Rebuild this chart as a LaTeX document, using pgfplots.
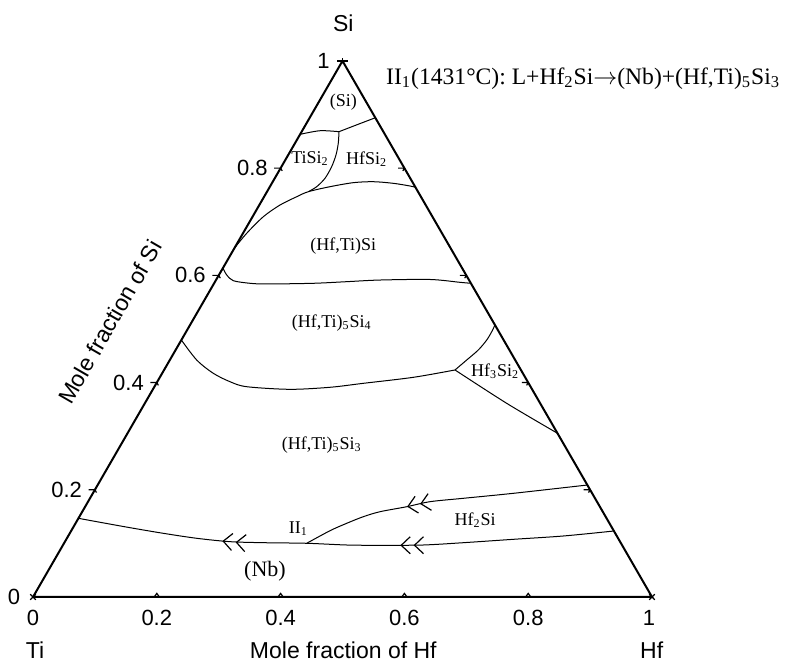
\documentclass[border=0pt]{standalone}
\usepackage{fontspec}
\setmainfont{Liberation Serif}
\newfontfamily\sansf{Liberation Sans}
\usepackage{pgfplots}
\pgfplotsset{compat=1.18}
\usetikzlibrary{decorations.markings, arrows.meta}

\pgfplotsset{/pgfplots/table/tern/.style={x expr=\thisrow{hf}+0.5*\thisrow{si}, y expr=0.8660254*\thisrow{si}}}

% tick marks
\pgfdeclareplotmark{tkB}{\pgfpathmoveto{\pgfpoint{-1.3pt}{0pt}}\pgfpathlineto{\pgfpoint{0pt}{1.8pt}}\pgfpathlineto{\pgfpoint{1.3pt}{0pt}}\pgfusepathqstroke}
\pgfdeclareplotmark{tkL}{\pgfpathmoveto{\pgfpoint{-3.2pt}{0pt}}\pgfpathlineto{\pgfpoint{0pt}{0pt}}\pgfpathlineto{\pgfpoint{0.8pt}{-1.4pt}}\pgfusepathqstroke}
\pgfdeclareplotmark{tkR}{\pgfpathmoveto{\pgfpoint{0pt}{0pt}}\pgfpathlineto{\pgfpoint{-3.2pt}{0pt}}\pgfpathmoveto{\pgfpoint{0pt}{0pt}}\pgfpathlineto{\pgfpoint{-0.8pt}{-1.4pt}}\pgfusepathqstroke}
\pgfdeclareplotmark{tkX}{\pgfpathmoveto{\pgfpoint{-1.4pt}{-1.4pt}}\pgfpathlineto{\pgfpoint{1.4pt}{1.4pt}}\pgfpathmoveto{\pgfpoint{-1.4pt}{1.4pt}}\pgfpathlineto{\pgfpoint{1.4pt}{-1.4pt}}\pgfusepathqstroke}
\pgfdeclareplotmark{tkT}{\pgfpathmoveto{\pgfpoint{-2.6pt}{0pt}}\pgfpathlineto{\pgfpoint{2.6pt}{0pt}}\pgfpathmoveto{\pgfpoint{0pt}{0pt}}\pgfpathlineto{\pgfpoint{0pt}{1.6pt}}\pgfusepathqstroke}

\newcommand\tk[1]{{\sansf\fontsize{11}{13}\selectfont #1}}
\newcommand\al[1]{{\sansf\fontsize{11.5}{13.5}\selectfont #1}}
\newcommand\rl[1]{{\fontsize{9}{11}\selectfont #1}}

\tikzset{
  dchev/.style={postaction={decorate}, decoration={markings,
     mark=at position #1 with {\arrow[line width=0.6pt]{Straight Barb[length=4.5pt,width=8.5pt,sep=1.4pt] Straight Barb[length=4.5pt,width=8.5pt]}}}},
}

\begin{document}
\begin{tikzpicture}
\useasboundingbox (-16.5pt,-32.5pt) rectangle (376pt,298.5pt);
\begin{axis}[at={(0pt,0pt)}, anchor=origin, hide axis,
  x=309.5pt, y=309.5pt, xmin=0, xmax=1, ymin=0, ymax=0.8660254,
  clip=false,
  every axis plot/.append style={black, line width=0.5pt}]

% triangle
\addplot[line width=1pt, line join=miter] table[tern] {
hf si
0 0
1 0
0 1
0 0
};

% ticks
\addplot[only marks, mark=tkB, mark options={line width=0.6pt}] table[tern] {
hf si
0.2 0
0.4 0
0.6 0
0.8 0
};
\addplot[only marks, mark=tkL, mark options={line width=0.6pt}] table[tern] {
hf si
0 0.2
0 0.4
0 0.6
0 0.8
};
\addplot[only marks, mark=tkR, mark options={line width=0.6pt}] table[tern] {
hf si
0.8 0.2
0.6 0.4
0.4 0.6
0.2 0.8
};
\addplot[only marks, mark=tkX, mark options={line width=0.6pt}] table[tern] {
hf si
0 0
1 0
};
\addplot[only marks, mark=tkT, mark options={line width=0.6pt}] table[tern] {
hf si
0 1
};

% (Si) / TiSi2
\addplot[smooth] table[tern] {
hf si
0 0.8631
0.0288 0.8698
0.0603 0.8680
};
% (Si) / HfSi2
\addplot[smooth] table[tern] {
hf si
0.0603 0.8680
0.083 0.8810
0.106 0.894
};
% TiSi2 / HfSi2
\addplot[smooth] table[tern] {
hf si
0.0603 0.8680
0.0700 0.8463
0.0772 0.8245
0.0811 0.8027
0.0812 0.7811
0.0756 0.7654
0.0668 0.7561
};
% upper boundary of (Hf,Ti)Si
\addplot[smooth] table[tern] {
hf si
0 0.6505
0.0060 0.6785
0.0174 0.7094
0.0334 0.7312
0.0527 0.7467
0.0668 0.7561
0.0971 0.7654
0.1310 0.7729
0.1624 0.7747
0.1962 0.7717
0.2257 0.7667
0.2357 0.7643
};
% lower boundary of (Hf,Ti)Si
\addplot[smooth] table[tern] {
hf si
0 0.6137
0.0126 0.6007
0.0286 0.5900
0.0580 0.5852
0.0856 0.5839
0.1602 0.5852
0.2127 0.5882
0.2649 0.5913
0.3453 0.5923
0.3963 0.5870
0.4148 0.5852
};
% (Hf,Ti)5Si4 / (Hf,Ti)5Si3
\addplot[smooth] table[tern] {
hf si
0 0.4794
0.0434 0.4421
0.0826 0.4173
0.1175 0.4016
0.1490 0.3923
0.2215 0.3874
0.2842 0.3912
0.3343 0.3986
0.4095 0.4098
0.4700 0.4235
};
% Hf3Si2 upper
\addplot[smooth] table[tern] {
hf si
0.4700 0.4235
0.4796 0.4421
0.4890 0.4608
0.4933 0.4794
0.4936 0.4949
0.4926 0.5074
};
% Hf3Si2 lower
\addplot[smooth] table[tern] {
hf si
0.4700 0.4235
0.5846 0.3613
0.6946 0.3054
};
% Hf2Si upper (towards II1)
\addplot[smooth, dchev=0.628] table[tern] {
hf si
0.7911 0.2089
0.6792 0.1934
0.6031 0.1841
0.5525 0.1778
0.5195 0.1684
0.4810 0.1591
0.4587 0.1498
0.4381 0.1375
0.4180 0.1237
0.3921 0.1002
};
% Hf2Si lower and (Nb) boundary
\addplot[smooth, postaction={decorate}, decoration={markings,
   mark=at position 0.398 with {\arrow[line width=0.6pt]{Straight Barb[length=4.5pt,width=8.5pt,sep=1.4pt] Straight Barb[length=4.5pt,width=8.5pt]}},
   mark=at position 0.729 with {\arrow[line width=0.6pt]{Straight Barb[length=4.5pt,width=8.5pt,sep=1.4pt] Straight Barb[length=4.5pt,width=8.5pt]}}}] table[tern] {
hf si
0.8769 0.1231
0.7998 0.1138
0.7221 0.1076
0.6446 0.1013
0.5820 0.0970
0.5124 0.0964
0.4583 0.0970
0.3921 0.1002
0.3215 0.1013
0.2667 0.1032
0.2098 0.1095
0.1511 0.1188
0.0921 0.1293
0.0327 0.1405
0 0.1468
};

% tick labels, left edge
\node[anchor=east, inner sep=0pt, xshift=-6.3pt] at (axis cs:0,0) {\tk{0}};
\node[anchor=east, inner sep=0pt, xshift=-6.3pt] at (axis cs:0.1,0.17321) {\tk{0.2}};
\node[anchor=east, inner sep=0pt, xshift=-6.3pt] at (axis cs:0.2,0.34641) {\tk{0.4}};
\node[anchor=east, inner sep=0pt, xshift=-6.3pt] at (axis cs:0.3,0.51962) {\tk{0.6}};
\node[anchor=east, inner sep=0pt, xshift=-6.3pt] at (axis cs:0.4,0.69282) {\tk{0.8}};
\node[anchor=east, inner sep=0pt, xshift=-6.3pt] at (axis cs:0.5,0.86603) {\tk{1}};
% tick labels, bottom edge
\node[yshift=-10.7pt] at (axis cs:0,0) {\tk{0}};
\node[yshift=-10.7pt] at (axis cs:0.2,0) {\tk{0.2}};
\node[yshift=-10.7pt] at (axis cs:0.4,0) {\tk{0.4}};
\node[yshift=-10.7pt] at (axis cs:0.6,0) {\tk{0.6}};
\node[yshift=-10.7pt] at (axis cs:0.8,0) {\tk{0.8}};
\node[yshift=-10.7pt] at (axis cs:0.995,0) {\tk{1}};

% axis labels
\node at (axis cs:0.5013,0.9268) {\al{Si}};
\node at (axis cs:0.0032,-0.0864) {\al{Ti}};
\node at (axis cs:0.5013,-0.0864) {\al{Mole fraction of Hf}};
\node at (axis cs:0.9995,-0.0864) {\al{Hf}};
\node[rotate=60, inner sep=0pt] at (axis cs:0.1244,0.4443) {\al{Mole fraction of Si}};

% region labels
\node at (axis cs:0.5013,0.8002) {\rl{(Si)}};
\node at (axis cs:0.4475,0.7076) {\rl{TiSi\textsubscript{2}}};
\node at (axis cs:0.5391,0.7076) {\rl{HfSi\textsubscript{2}}};
\node at (axis cs:0.5013,0.5670) {\rl{(Hf,Ti)Si}};
\node at (axis cs:0.4826,0.4422) {\rl{(Hf,Ti)\textsubscript{5}Si\textsubscript{4}}};
\node at (axis cs:0.4664,0.2456) {\rl{(Hf,Ti)\textsubscript{5}Si\textsubscript{3}}};
\node at (axis cs:0.7464,0.3640) {\rl{Hf\textsubscript{3}Si\textsubscript{2}}};
\node at (axis cs:0.7141,0.1244) {\rl{Hf\textsubscript{2}Si}};
\node at (axis cs:0.4286,0.1110) {\rl{II\textsubscript{1}}};
\node at (axis cs:0.3748,0.0409) {{\fontsize{11}{13}\selectfont (Nb)}};

% title
\node[anchor=west, inner sep=0pt] at (axis cs:0.5700,0.8380) {{\fontsize{11.8}{14}\selectfont II\textsubscript{1}(1431°C): L+Hf\textsubscript{2}Si$\rightarrow$(Nb)+(Hf,Ti)\textsubscript{5}Si\textsubscript{3}}};
\end{axis}
\end{tikzpicture}
\end{document}
